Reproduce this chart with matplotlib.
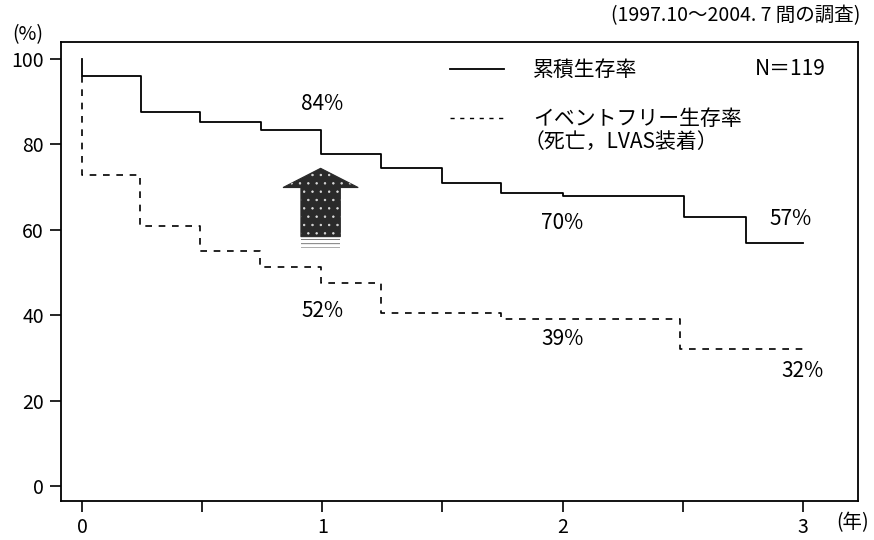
import matplotlib
matplotlib.use('Agg')
import matplotlib.pyplot as plt
from matplotlib.patches import Rectangle
from matplotlib.lines import Line2D

# fonts: narrow latin for numbers if present, CJK fallback for japanese
NUM = ['Liberation Sans Narrow', 'Noto Sans CJK JP']
JP = ['Noto Sans CJK JP', 'DejaVu Sans']
plt.rcParams['font.family'] = NUM

# step data (years, %)
t_total = [0, 0, 0.245, 0.49, 0.745, 0.995, 1.245, 1.5, 1.745, 2.0, 2.505, 2.765, 3.0]
s_total = [100, 96.0, 87.5, 85.3, 83.4, 77.8, 74.4, 71.0, 68.6, 67.8, 63.0, 56.8, 56.8]

t_event = [0, 0, 0.24, 0.49, 0.74, 0.995, 1.245, 1.745, 2.49, 3.0]
s_event = [96.0, 72.8, 61.0, 55.0, 51.4, 47.5, 40.4, 39.0, 32.0, 32.0]

# percentage callouts
pct_labels = ['84%', '70%', '57%', '52%', '39%', '32%']
pct_x = [1.0, 2.0, 2.95, 1.0, 2.0, 3.0]
pct_y = [89.5, 61.5, 62.5, 41.0, 34.5, 27.0]

legend_labels = ['累積生存率', 'イベントフリー生存率']
legend_note = '（死亡，LVAS装着）'
n_text = 'N＝119'
title = '(1997.10～2004. 7 間の調査)'

fig = plt.figure(figsize=(8.74, 5.4), dpi=100)
ax = fig.add_axes([60.7 / 874, 39.3 / 540, 797.3 / 874, 459 / 540])

ax.step(t_total, s_total, where='post', color='black', lw=1.3)
ax.step(t_event, s_event, where='post', color='black', lw=1.2, dashes=(4, 4))

# improvement arrow with hatched foot
ax.arrow(0.993, 58.4, 0, 16, width=0.164, head_width=0.313, head_length=4.5,
         length_includes_head=True, fc='#2a2a2a', ec='#2a2a2a', lw=0.8, zorder=3)
plt.rcParams['hatch.linewidth'] = 0.5
ax.arrow(0.993, 58.4, 0, 16, width=0.164, head_width=0.313, head_length=4.5,
         length_includes_head=True, fill=False, ec='#dddddd', lw=0, hatch='..', zorder=4)
ax.add_patch(Rectangle((0.911, 55.7), 0.164, 2.2, facecolor='white', edgecolor='#444',
                       hatch='----', lw=0, zorder=3))

for lab, x, y in zip(pct_labels, pct_x, pct_y):
    ax.text(x, y, lab, ha='center', va='center', fontsize=15)

ax.set_xlim(-0.089, 3.23)
ax.set_ylim(-3.44, 104.05)
ax.set_yticks([0, 20, 40, 60, 80, 100])
ax.set_xticks([0, 1, 2, 3])
ax.set_xticks([0.5, 1.5, 2.5], minor=True)
ax.tick_params(axis='both', which='both', direction='out', length=8, width=1.2,
               labelsize=14, pad=4)
for sp in ax.spines.values():
    sp.set_linewidth(1.3)

handles = [Line2D([], [], color='black', lw=1.3),
           Line2D([], [], color='black', lw=1.0, dashes=(3, 4))]
ax.legend(handles, legend_labels, loc='upper left', bbox_to_anchor=(0.488, 0.962),
          frameon=False, borderpad=0, borderaxespad=0, handlelength=2.6,
          handletextpad=1.4, labelspacing=1.3, prop={'family': JP, 'size': 15})
ax.text(0.58, 0.782, legend_note, transform=ax.transAxes, ha='left', va='center',
        fontsize=15, family=JP)
ax.text(0.96, 0.94, n_text, transform=ax.transAxes, ha='right', va='center',
        fontsize=15, family=NUM)

fig.text(860 / 874, 1 - 16 / 540, title, ha='right', va='center', fontsize=14)
fig.text(12 / 874, 1 - 35 / 540, '(%)', ha='left', va='center', fontsize=14)
fig.text(853 / 874, 1 - 523 / 540, '(年)', ha='center', va='center', fontsize=14)

fig.savefig('out.png', dpi=100)
